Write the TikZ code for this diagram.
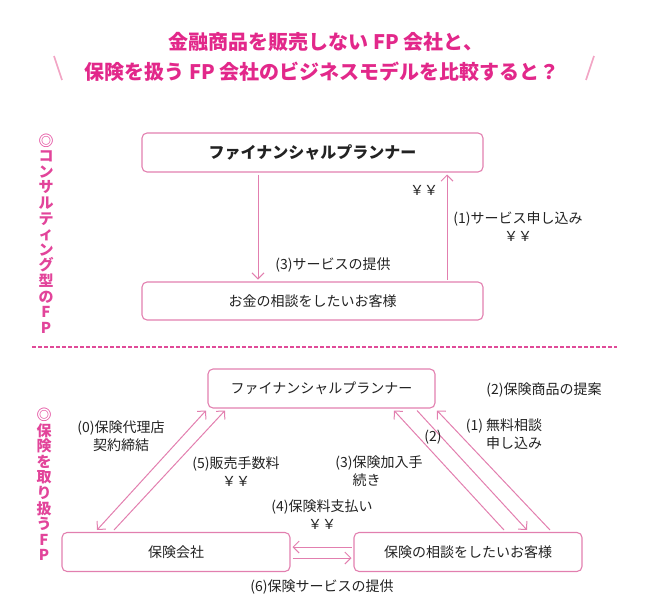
\documentclass[tikz,border=0pt]{standalone}
\usepackage{fontspec}
\setmainfont{Noto Sans CJK JP}
\usetikzlibrary{arrows.meta}
\definecolor{ttlc}{HTML}{E2288A}
\definecolor{sidec}{HTML}{E2449A}
\definecolor{slshc}{HTML}{F2A5C5}
\definecolor{lnkc}{HTML}{E27FAF}
\definecolor{sepc}{HTML}{E04A98}
\definecolor{txtc}{HTML}{222222}
\begin{document}
\begin{tikzpicture}[x=1pt,y=-1pt,>={Straight Barb[length=6pt,width=12pt]},
  box/.style={draw=lnkc, line width=1.1pt, rounded corners=5pt, inner sep=0pt, outer sep=2.5pt, text=txtc, font=\fontsize{14}{16}\selectfont},
  lab/.style={text=txtc, inner sep=0pt, font=\fontsize{14}{18}\selectfont},
  flow/.style={draw=lnkc, line width=1pt, ->},
  side/.style={text=sidec, inner sep=0pt, align=center, font=\bfseries\fontsize{15}{15.6}\selectfont},
  ttl/.style={text=ttlc, inner sep=0pt, font=\bfseries\fontsize{20}{24}\selectfont}]
\useasboundingbox (0,0) rectangle (651,613);
\node[ttl] (ttl1) at (326,42){金融商品を販売しない FP 会社と、};
\node[ttl] (ttl2) at (322,72){保険を扱う FP 会社のビジネスモデルを比較すると？};
\draw[slshc, line width=1.6pt] (54,56) -- (62,80);
\draw[slshc, line width=1.6pt] (594,56) -- (586,80);
\node[side] (sid1) at (46,233.5){◎\\コ\\ン\\サ\\ル\\テ\\ィ\\ン\\グ\\型\\の\\F\\P};
\node[side] (sid2) at (44,484.5){◎\\保\\険\\を\\取\\り\\扱\\う\\F\\P};
\node[box, minimum width=341pt, minimum height=39pt, font=\bfseries\fontsize{16}{18}\selectfont] (fp1) at (312.5,152.5){ファイナンシャルプランナー};
\node[box, minimum width=341pt, minimum height=38pt] (cl1) at (312.5,301){お金の相談をしたいお客様};
\draw[flow](fp1.south -| 258,0) -- (cl1.north -| 258,0);
\draw[flow](cl1.north -| 447,0) -- (fp1.south -| 447,0);
\node[lab] (yen1) at (424,190){￥￥};
\node[lab, align=center] (apl1) at (518,227){(1)サービス申し込み\\￥￥};
\node[lab] (srv1) at (333,265){(3)サービスの提供};
\draw[sepc, line width=1.2pt, dash pattern=on 4pt off 2pt] (32,347) -- (617,347);
\node[box, minimum width=227pt, minimum height=39pt] (fp2) at (321.5,388.5){ファイナンシャルプランナー};
\node[box, minimum width=228pt, minimum height=39pt] (ins) at (176,552){保険会社};
\node[box, minimum width=228pt, minimum height=39pt] (cl2) at (468,552){保険の相談をしたいお客様};
\draw[flow, <->](ins.north -| 97,0) -- (fp2.south -| 206,0);
\draw[flow](ins.north -| 114,0) -- (fp2.south -| 225,0);
\draw[flow](cl2.north -| 504,0) -- (fp2.south -| 394,0);
\draw[flow](fp2.south -| 417,0) -- (cl2.north -| 527,0);
\draw[flow](cl2.north -| 550,0) -- (fp2.south -| 437,0);
\draw[flow](cl2.west |- 0,547) -- (ins.east |- 0,547);
\draw[flow](ins.east |- 0,558) -- (cl2.west |- 0,558);
\node[lab, align=center] (agt) at (121,436){(0)保険代理店\\契約締結};
\node[lab, align=center] (fee) at (236,472){(5)販売手数料\\￥￥};
\node[lab, align=left] (prc) at (379,472){(3)保険加入手\\\phantom{(3)}続き};
\node[lab, align=center] (pay) at (322,515){(4)保険料支払い\\￥￥};
\node[lab] (two) at (433,437){(2)};
\node[lab, align=left] (free) at (504,435){(1) 無料相談\\\phantom{(1) }申し込み};
\node[lab] (prop) at (544,390){(2)保険商品の提案};
\node[lab] (svc) at (322,587){(6)保険サービスの提供};
\end{tikzpicture}
\end{document}
